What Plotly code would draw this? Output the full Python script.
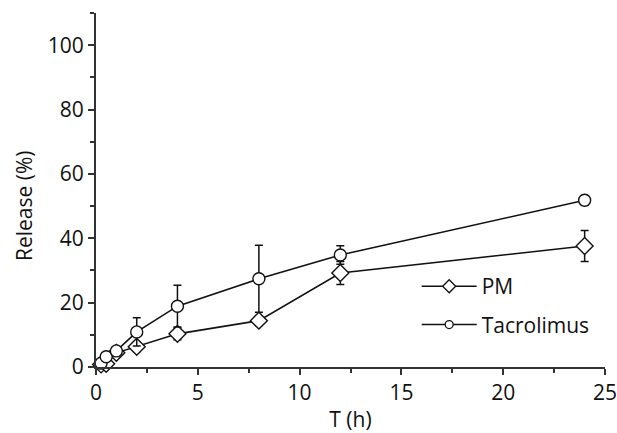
import plotly.graph_objects as go

time_h = [0.25, 0.5, 1, 2, 4, 8, 12, 24]
pm_release = [0.8, 1.0, 4.4, 6.3, 10.3, 14.4, 29.2, 37.6]
pm_err = [0.8, 0.8, 1.2, 1.5, 1.8, 1.5, 3.6, 4.8]
tac_release = [1.2, 3.2, 5.0, 10.9, 18.9, 27.4, 34.8, 51.8]
tac_err = [0.8, 1.0, 1.0, 4.4, 6.5, 10.4, 2.9, 1.5]

x_ticks = [0, 5, 10, 15, 20, 25]
y_ticks = [0, 20, 40, 60, 80, 100]

ink = "#111"
font = dict(family="Open Sans", size=21, color=ink)

fig = go.Figure()
fig.add_trace(go.Scatter(
    x=time_h, y=pm_release, name="PM", mode="lines+markers", showlegend=False,
    line=dict(color=ink, width=1.6),
    marker=dict(symbol="diamond", size=13, color="white",
                line=dict(color=ink, width=1.4)),
    error_y=dict(type="data", array=pm_err, color=ink, thickness=1.5, width=4),
    cliponaxis=False,
))
fig.add_trace(go.Scatter(
    x=time_h, y=tac_release, name="Tacrolimus", mode="lines+markers", showlegend=False,
    line=dict(color=ink, width=1.6),
    marker=dict(symbol="circle", size=12, color="white",
                line=dict(color=ink, width=1.4)),
    error_y=dict(type="data", array=tac_err, color=ink, thickness=1.5, width=4),
    cliponaxis=False,
))
# legend entries with smaller symbols
fig.add_trace(go.Scatter(
    x=[None], y=[None], name="PM", mode="lines+markers", legendgroup="a",
    line=dict(color=ink, width=1.6),
    marker=dict(symbol="diamond", size=10, color="white", line=dict(color=ink, width=1.3)),
))
fig.add_trace(go.Scatter(
    x=[None], y=[None], name="Tacrolimus", mode="lines+markers", legendgroup="b",
    line=dict(color=ink, width=1.6),
    marker=dict(symbol="circle", size=8, color="white", line=dict(color=ink, width=1.3)),
))

axis_common = dict(
    showline=True, linecolor="#333", linewidth=2, showgrid=False,
    zeroline=False, ticks="outside", ticklen=6, tickwidth=2,
    tickcolor="#333", tickfont=font, mirror=False, automargin=False,
    ticklabeloverflow="allow",
    minor=dict(ticks="outside", ticklen=4, tickwidth=1.5, tickcolor="#333"),
)

fig.update_layout(
    width=617, height=433,
    margin=dict(l=96, r=12, t=13, b=66),
    paper_bgcolor="white", plot_bgcolor="white",
    font=font,
    showlegend=True,
    legend=dict(x=0.63, y=0.285, xanchor="left", yanchor="top",
                bgcolor="rgba(0,0,0,0)", font=font, itemwidth=55,
                traceorder="grouped", tracegroupgap=8),
    xaxis=dict(range=[0, 25], tickvals=x_ticks,
               title=dict(text="T (h)", font=font, standoff=12),
               **axis_common),
    yaxis=dict(range=[0, 110], tickvals=y_ticks, **axis_common),
    annotations=[dict(text="Release (%)", xref="paper", yref="paper",
                      x=-0.1415, y=0.4576, xanchor="center", yanchor="middle",
                      textangle=-90, showarrow=False, font=font)],
)
fig.update_xaxes(minor=dict(dtick=2.5, tick0=0))
fig.update_yaxes(minor=dict(dtick=10, tick0=0))

fig.write_html("out.html")
